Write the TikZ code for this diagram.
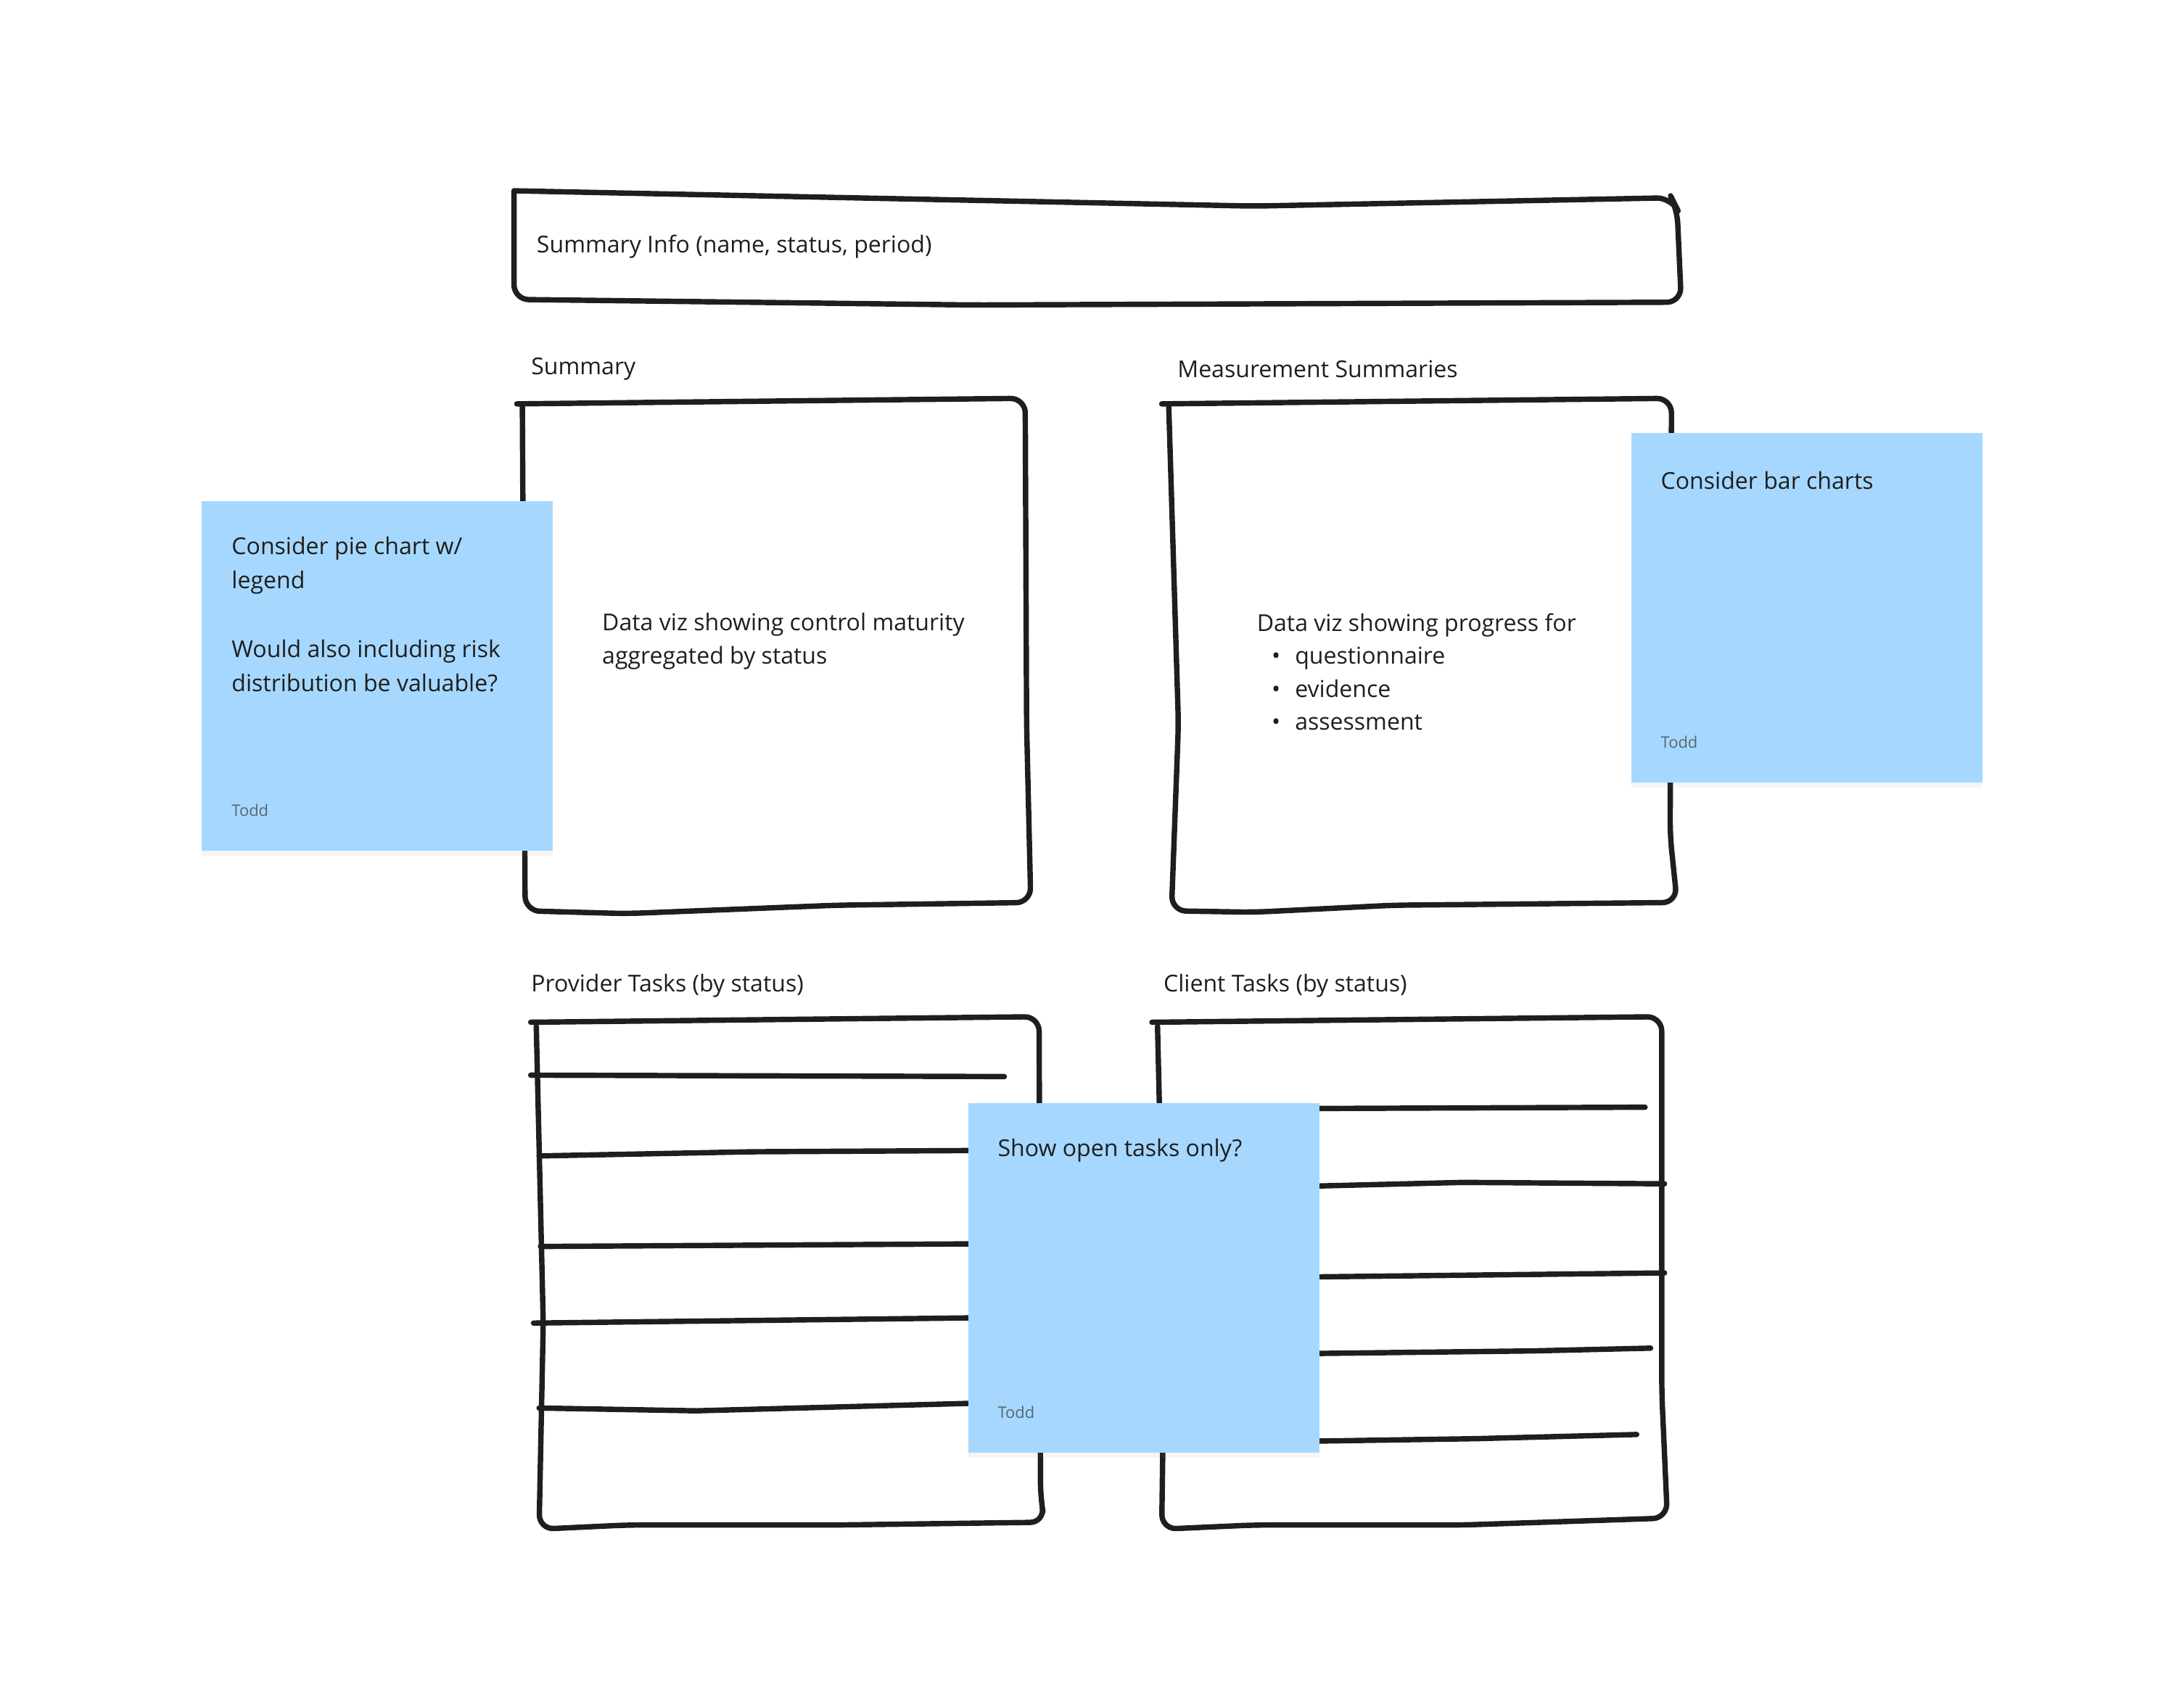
\documentclass[tikz,border=0pt]{standalone}
\usepackage{fontspec}
\setmainfont{Open Sans}
\definecolor{ink}{HTML}{1E1E1E}
\definecolor{sticky}{HTML}{A6D8FF}
\definecolor{byline}{HTML}{5A6670}
\tikzset{
  sketch/.style={draw=ink,line width=2.2pt,line cap=round,line join=round,rounded corners=6pt},
  rule/.style={draw=ink,line width=2.2pt,line cap=round},
  note/.style={fill=sticky,draw=none,drop shadow={opacity=0.08,shadow xshift=0pt,shadow yshift=-2pt}},
  txt/.style={anchor=west,inner sep=0pt,font=\fontsize{9.5}{13.5}\selectfont,text=ink},
  who/.style={anchor=west,inner sep=0pt,font=\fontsize{6.5}{8}\selectfont,text=byline}
}
\usetikzlibrary{shadows}
\begin{document}
\begin{tikzpicture}[x=0.02cm,y=-0.02cm]
  \useasboundingbox (0,0) rectangle (1555,1226);
  % top bar
  \draw[sketch] (369,137) -- (369,215) -- (700,219) -- (1207,217) -- (1204,150) -- (1200,142) -- (900,148) -- (369,137);
  \node[txt] (info) at (385,177) {Summary Info (name, status, period)};
  % summary
  \node[txt] (sumttl) at (381,265) {Summary};
  \draw[sketch] (371,290) -- (736,286) -- (737,520) -- (740,648) -- (600,650) -- (450,656) -- (377,654) -- (375,290);
  \node[txt,align=left,anchor=north west] (sumtxt) at (432,440) {Data viz showing control maturity\\aggregated by status};
  % measurements
  \node[txt] (msrttl) at (845,265) {Measurement Summaries};
  \draw[sketch] (834,290) -- (1200,286) -- (1199,600) -- (1204,648) -- (1000,650) -- (900,655) -- (841,654) -- (846,520) -- (839,290);
  \node[txt,align=left,anchor=north west] (msrtxt) at (902,440) {Data viz showing progress for\\
    \hspace*{6pt}\textbullet\hspace{6pt}questionnaire\\
    \hspace*{6pt}\textbullet\hspace{6pt}evidence\\
    \hspace*{6pt}\textbullet\hspace{6pt}assessment};
  % provider tasks
  \node[txt] (prvttl) at (381,708) {Provider Tasks (by status)};
  \draw[sketch] (381,734) -- (746,730) -- (747,1075) -- (750,1093) -- (600,1095) -- (450,1095) -- (387,1098) -- (390,950) -- (385,737);
  \draw[rule] (381,772) -- (721,773);
  \draw[rule] (387,830) -- (540,827) -- (720,826);
  \draw[rule] (388,895) -- (720,893);
  \draw[rule] (383,950) -- (720,946);
  \draw[rule] (387,1011) -- (500,1013) -- (720,1007);
  % client tasks
  \node[txt] (clnttl) at (835,708) {Client Tasks (by status)};
  \draw[sketch] (827,734) -- (1193,730) -- (1193,1000) -- (1197,1090) -- (1050,1095) -- (900,1095) -- (834,1098) -- (836,950) -- (831,737);
  \draw[rule] (930,796) -- (1181,795);
  \draw[rule] (930,852) -- (1050,849) -- (1195,850);
  \draw[rule] (930,917) -- (1195,914);
  \draw[rule] (930,972) -- (1100,970) -- (1185,968);
  \draw[rule] (930,1035) -- (1060,1033) -- (1175,1030);
  % sticky notes
  \fill[note] (145,360) rectangle (397,611);
  \node[txt,align=left,anchor=north west,font=\fontsize{9.5}{14}\selectfont] (pienote) at (166,385) {Consider pie chart w/\\legend\\[14pt]Would also including risk\\distribution be valuable?};
  \node[who] (pieby) at (166,582) {Todd};
  \fill[note] (1171,311) rectangle (1423,562);
  \node[txt] (barnote) at (1192,345) {Consider bar charts};
  \node[who] (barby) at (1192,533) {Todd};
  \fill[note] (695,792) rectangle (947,1043);
  \node[txt] (opennote) at (716,826) {Show open tasks only?};
  \node[who] (openby) at (716,1014) {Todd};
\end{tikzpicture}
\end{document}
